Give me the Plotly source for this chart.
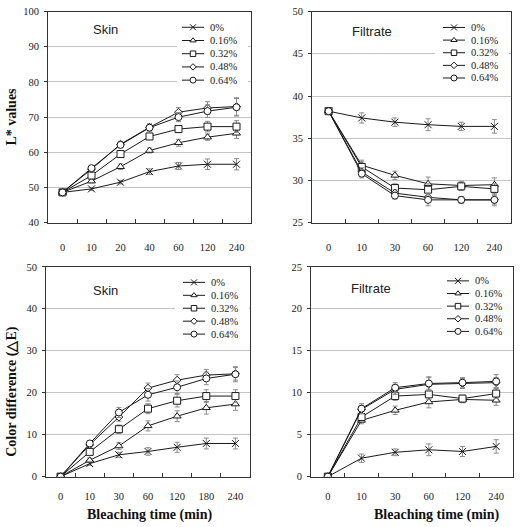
import plotly.graph_objects as go

W, H = 520, 527

# ---------------- data ----------------
series_names = ["0%", "0.16%", "0.32%", "0.48%", "0.64%"]

# Panel A: L* values, skin
time_skin_L = ["0", "10", "20", "40", "60", "120", "240"]
L_skin_0 = [48.6, 49.6, 51.5, 54.5, 56.1, 56.6, 56.6]
L_skin_016 = [48.6, 51.8, 55.9, 60.5, 62.7, 64.3, 65.4]
L_skin_032 = [48.6, 53.4, 59.5, 64.5, 66.6, 67.3, 67.3]
L_skin_048 = [48.6, 55.2, 62.3, 67.1, 71.4, 72.6, 73.0]
L_skin_064 = [48.6, 55.5, 62.1, 67.0, 70.0, 71.7, 72.8]
L_skin_err_0 = [0.3, 0.4, 0.5, 0.8, 1.0, 1.5, 1.6]
L_skin_err_016 = [0.3, 0.5, 0.8, 0.7, 1.0, 0.9, 1.5]
L_skin_err_032 = [0.3, 0.6, 0.9, 0.8, 1.0, 1.5, 1.7]
L_skin_err_048 = [0.3, 0.6, 0.8, 1.0, 1.3, 1.8, 2.5]
L_skin_err_064 = [0.3, 0.6, 0.8, 1.0, 1.3, 1.8, 2.5]

# Panel B: L* values, filtrate
time_filt = ["0", "10", "30", "60", "120", "240"]
L_filt_0 = [38.2, 37.4, 36.9, 36.6, 36.4, 36.4]
L_filt_016 = [38.2, 31.8, 30.6, 29.6, 29.4, 29.5]
L_filt_032 = [38.2, 31.6, 29.1, 28.9, 29.3, 29.0]
L_filt_048 = [38.2, 31.0, 28.5, 28.0, 27.7, 27.7]
L_filt_064 = [38.2, 30.8, 28.2, 27.7, 27.7, 27.7]
L_filt_err_0 = [0.3, 0.6, 0.5, 0.7, 0.5, 0.8]
L_filt_err_016 = [0.3, 0.6, 0.5, 0.8, 0.5, 0.8]
L_filt_err_032 = [0.3, 0.6, 0.5, 0.7, 0.5, 0.6]
L_filt_err_048 = [0.3, 0.5, 0.4, 0.5, 0.4, 0.5]
L_filt_err_064 = [0.3, 0.5, 0.4, 0.7, 0.4, 0.7]

# Panel C: colour difference, skin
time_skin_E = ["0", "10", "30", "60", "120", "180", "240"]
dE_skin_0 = [0, 3.1, 5.2, 6.0, 7.0, 7.9, 7.9]
dE_skin_016 = [0, 3.9, 7.3, 12.1, 14.4, 16.4, 17.3]
dE_skin_032 = [0, 5.9, 11.3, 16.2, 18.1, 19.2, 19.2]
dE_skin_048 = [0, 7.6, 14.2, 21.1, 23.0, 24.2, 24.5]
dE_skin_064 = [0, 7.9, 15.3, 19.5, 21.3, 23.4, 24.4]
dE_skin_err_0 = [0, 0.4, 0.6, 0.9, 1.2, 1.3, 1.3]
dE_skin_err_016 = [0, 0.5, 0.8, 1.2, 1.3, 1.5, 1.5]
dE_skin_err_032 = [0, 0.6, 1.0, 1.2, 1.5, 1.5, 1.5]
dE_skin_err_048 = [0, 0.6, 1.0, 1.2, 1.3, 1.3, 1.5]
dE_skin_err_064 = [0, 0.6, 1.2, 1.5, 1.5, 1.5, 1.8]

# Panel D: colour difference, filtrate
dE_filt_0 = [0, 2.2, 2.9, 3.2, 3.0, 3.6]
dE_filt_016 = [0, 6.7, 7.9, 8.9, 9.2, 9.1]
dE_filt_032 = [0, 7.1, 9.6, 9.8, 9.3, 9.9]
dE_filt_048 = [0, 8.0, 10.4, 11.0, 11.1, 11.2]
dE_filt_064 = [0, 8.1, 10.6, 11.1, 11.2, 11.35]
dE_filt_err_0 = [0, 0.5, 0.4, 0.7, 0.6, 0.8]
dE_filt_err_016 = [0, 0.4, 0.5, 0.7, 0.4, 0.6]
dE_filt_err_032 = [0, 0.4, 0.5, 0.6, 0.4, 0.6]
dE_filt_err_048 = [0, 0.5, 0.6, 0.8, 0.6, 0.6]
dE_filt_err_064 = [0, 0.6, 0.6, 0.8, 0.6, 0.8]

panels = [
    dict(x=time_skin_L, ys=[L_skin_0, L_skin_016, L_skin_032, L_skin_048, L_skin_064],
         errs=[L_skin_err_0, L_skin_err_016, L_skin_err_032, L_skin_err_048, L_skin_err_064],
         yrange=[40, 100], dtick=10, label="Skin"),
    dict(x=time_filt, ys=[L_filt_0, L_filt_016, L_filt_032, L_filt_048, L_filt_064],
         errs=[L_filt_err_0, L_filt_err_016, L_filt_err_032, L_filt_err_048, L_filt_err_064],
         yrange=[25, 50], dtick=5, label="Filtrate"),
    dict(x=time_skin_E, ys=[dE_skin_0, dE_skin_016, dE_skin_032, dE_skin_048, dE_skin_064],
         errs=[dE_skin_err_0, dE_skin_err_016, dE_skin_err_032, dE_skin_err_048, dE_skin_err_064],
         yrange=[0, 50], dtick=10, label="Skin"),
    dict(x=time_filt, ys=[dE_filt_0, dE_filt_016, dE_filt_032, dE_filt_048, dE_filt_064],
         errs=[dE_filt_err_0, dE_filt_err_016, dE_filt_err_032, dE_filt_err_048, dE_filt_err_064],
         yrange=[0, 25], dtick=5, label="Filtrate"),
]

# ---------------- layout geometry (pixels) ----------------
boxes = [(48, 251, 6.7, 222.3), (312, 511, 6.7, 222.3),
         (46, 250, 267.4, 481.7), (311, 513, 267.4, 481.7)]
label_pos = [(105, 25), (372, 27), (105, 292), (371, 290)]
legend_geo = [(182, 16, 13.5), (443, 16.5, 12.9), (183, 276.7, 13.2), (447, 275.3, 12.9)]
legend_bg = [(177, 238, 14, 85), (435, 503, 14, 82), (175, 240, 275, 344), (442, 503, 274, 341)]
tick_standoff = [15, 15, 10, 10]

symbols = ["x-thin", "triangle-up", "square", "diamond", "circle"]
sizes = [7, 7, 7, 6, 7]
leg_sizes = [6, 5.5, 5.5, 5, 6]

SERIF = "Liberation Serif, Times New Roman, serif"
SANS = "Liberation Sans, Arial, sans-serif"
LINEC = "#1a1a1a"

fig = go.Figure()
annotations = []
shapes = []

for p, (panel, box) in enumerate(zip(panels, boxes)):
    n = p + 1
    xa = "x" if n == 1 else f"x{n}"
    ya = "y" if n == 1 else f"y{n}"
    for i, name in enumerate(series_names):
        sym = symbols[i]
        fig.add_trace(go.Scatter(
            x=panel["x"], y=panel["ys"][i], name=name, mode="lines+markers",
            xaxis=xa, yaxis=ya, showlegend=False,
            line=dict(color=LINEC, width=1),
            marker=dict(symbol=sym, size=sizes[i],
                        color=LINEC if sym == "x-thin" else "white",
                        line=dict(color=LINEC, width=1)),
            error_y=dict(type="data", array=panel["errs"][i], visible=True,
                         color="#8c8c8c", thickness=1, width=2.5),
        ))
    l, r, t, b = box
    ncat = len(panel["x"])
    y0r, y1r = panel["yrange"]
    axkey_x = "xaxis" if n == 1 else f"xaxis{n}"
    axkey_y = "yaxis" if n == 1 else f"yaxis{n}"
    fig.update_layout(**{
        axkey_x: dict(domain=[l / W, r / W], anchor=ya, type="category",
                      categoryorder="array", categoryarray=panel["x"],
                      range=[-0.5, ncat - 0.5], showgrid=False, zeroline=False,
                      showline=True, mirror=True, linecolor="#333", linewidth=1,
                      ticks="inside", tickson="boundaries", ticklen=4,
                      tickcolor="#333", ticklabelstandoff=tick_standoff[p],
                      tickfont=dict(family=SERIF, size=10.5, color="#222")),
        axkey_y: dict(domain=[1 - b / H, 1 - t / H], anchor=xa,
                      range=panel["yrange"], dtick=panel["dtick"],
                      showgrid=True, gridcolor="#c4c4c4", gridwidth=1,
                      zeroline=False, showline=True, mirror=True,
                      linecolor="#333", linewidth=1, ticks="outside",
                      ticklen=3, tickcolor="#333", ticklabelstandoff=3,
                      tickfont=dict(family=SERIF, size=10.5, color="#222")),
    })
    lx, ly = label_pos[p]
    annotations.append(dict(text=panel["label"], xref="paper", yref="paper",
                            x=lx / W, y=1 - ly / H, showarrow=False,
                            xanchor="center", yanchor="middle",
                            font=dict(family=SANS, size=13, color="#222")))
    # white legend background (between gridlines and traces), in axis units
    bl, br, bt, bb = legend_bg[p]
    shapes.append(dict(type="rect", xref=xa, yref=ya,
                       x0=-0.5 + (bl - l) / (r - l) * ncat,
                       x1=-0.5 + (br - l) / (r - l) * ncat,
                       y0=y0r + (b - bb) / (b - t) * (y1r - y0r),
                       y1=y0r + (b - bt) / (b - t) * (y1r - y0r),
                       fillcolor="white", line=dict(width=0), layer="between"))

    # legend on an overlay axis pair
    gl, gt, gs = legend_geo[p]
    lw = 66
    lxa, lya = f"x{4 + n}", f"y{4 + n}"
    fig.update_layout(**{
        f"xaxis{4 + n}": dict(domain=[gl / W, (gl + lw) / W], anchor=lya,
                             range=[0, lw], visible=False, fixedrange=True),
        f"yaxis{4 + n}": dict(domain=[1 - (gt + 5 * gs) / H, 1 - gt / H], anchor=lxa,
                             range=[5 * gs, 0], visible=False, fixedrange=True),
    })
    for i, name in enumerate(series_names):
        yy = gs * (i + 0.5)
        fig.add_trace(go.Scatter(x=[0, 22], y=[yy, yy], mode="lines", xaxis=lxa, yaxis=lya,
                                 showlegend=False, hoverinfo="skip",
                                 line=dict(color=LINEC, width=1)))
        sym = symbols[i]
        fig.add_trace(go.Scatter(x=[11], y=[yy], mode="markers", xaxis=lxa, yaxis=lya,
                                 showlegend=False, hoverinfo="skip",
                                 marker=dict(symbol=sym, size=leg_sizes[i],
                                             color=LINEC if sym == "x-thin" else "white",
                                             line=dict(color=LINEC, width=1))))
        annotations.append(dict(text=name, xref=lxa, yref=lya, x=25.5, y=yy,
                                showarrow=False, xanchor="left", yanchor="middle",
                                font=dict(family=SERIF, size=10.5, color="#222")))

title_font = dict(family=SERIF, size=14, color="#111")
annotations += [
    dict(text="<b>L* values</b>", xref="paper", yref="paper", x=12 / W, y=1 - 114 / H,
         textangle=-90, showarrow=False, xanchor="center", yanchor="middle", font=title_font),
    dict(text="<b>Color difference (△E)</b>", xref="paper", yref="paper", x=12 / W,
         y=1 - 395 / H, textangle=-90, showarrow=False, xanchor="center",
         yanchor="middle", font=title_font),
    dict(text="<b>Bleaching time (min)</b>", xref="paper", yref="paper", x=150 / W,
         y=1 - 521 / H, showarrow=False, xanchor="center", yanchor="middle", font=title_font),
    dict(text="<b>Bleaching time (min)</b>", xref="paper", yref="paper", x=437 / W,
         y=1 - 521 / H, showarrow=False, xanchor="center", yanchor="middle", font=title_font),
]

fig.update_layout(width=W, height=H, margin=dict(l=0, r=0, t=0, b=0),
                  paper_bgcolor="white", plot_bgcolor="white",
                  showlegend=False, annotations=annotations, shapes=shapes)

fig.write_html("out.html", include_plotlyjs=True, full_html=True,
               config=dict(displayModeBar=False))
